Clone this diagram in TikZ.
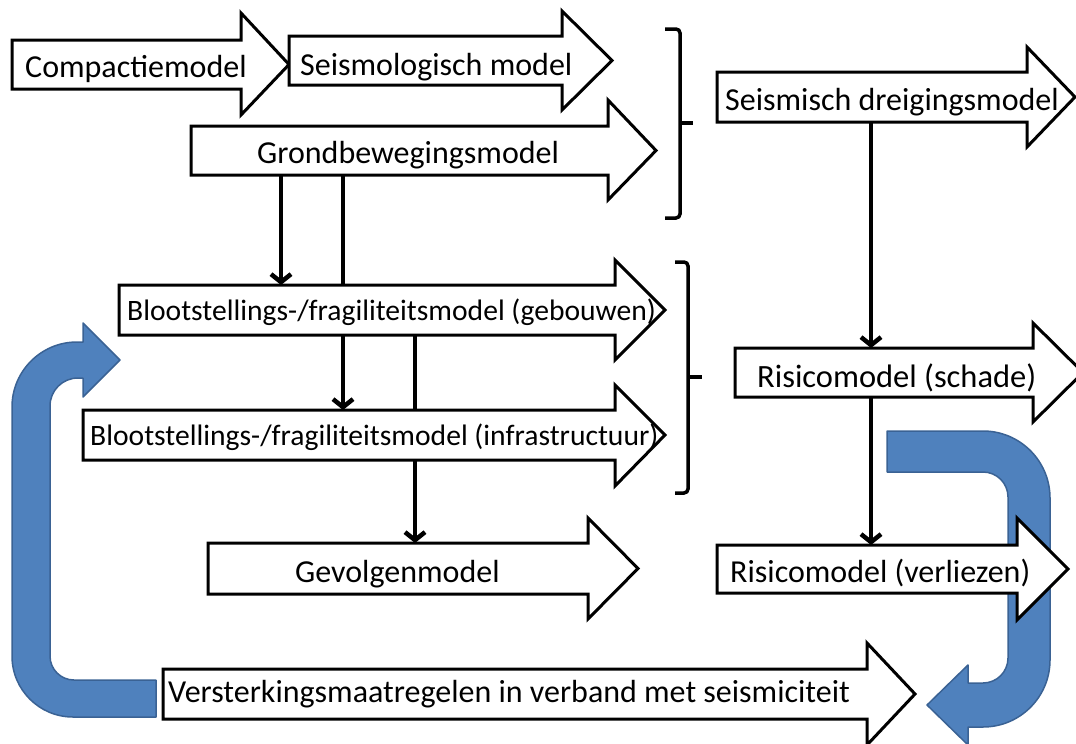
\documentclass[tikz,border=0pt]{standalone}
\usepackage{fontspec}
\setmainfont{Carlito}
\usetikzlibrary{arrows.meta}

\definecolor{officeblue}{HTML}{4F81BD}
\definecolor{officeblueline}{HTML}{3A6294}

\tikzset{
  blockline/.style={draw=black, fill=white, line width=3pt, line join=miter},
  bodybox/.style={draw=none, inner sep=0pt, outer sep=0pt},
  labeltext/.style={inner sep=0pt, anchor=base west, font=\fontsize{32}{36}\selectfont},
  smalllabel/.style={labeltext, font=\fontsize{29.6}{34}\selectfont},
  conn/.style={line width=4.5pt, -{Straight Barb[length=8pt, width=20pt]}},
  bracketline/.style={line width=3.5pt, rounded corners=4pt},
  loopband/.style={fill=officeblue, draw=officeblueline, line width=1.5pt, line join=round}
}

% shaft of a block arrow as a named node: name, left, top, bottom, head start
\newcommand{\shaftnode}[5]{%
  \pgfmathsetmacro{\arrbw}{#5-#2}%
  \pgfmathsetmacro{\arrbh}{#4-#3}%
  \node[bodybox, minimum width=\arrbw pt, minimum height=\arrbh pt] (#1)
    at ({(#2+#5)/2},{(#3+#4)/2}) {};
}
% outline of a block arrow: left, top, bottom, head start, head top, head bottom, tip x
\newcommand{\blockarrow}[7]{%
  \draw[blockline] (#1,#2) -- (#4,#2) -- (#4,#5) -- (#7,{(#2+#3)/2}) -- (#4,#6)
    -- (#4,#3) -- (#1,#3) -- cycle;
}

\begin{document}
\begin{tikzpicture}[x=1pt, y=-1pt]
\useasboundingbox (0,0) rectangle (1076,744);

% columns of the vertical connectors
\coordinate (cA) at (281,0);
\coordinate (cB) at (343,0);
\coordinate (cC) at (415,0);
\coordinate (cD) at (871,0);

% named shafts
\shaftnode{comp}{12}{40}{89}{241}
\shaftnode{seis}{289}{36}{85}{562}
\shaftnode{grond}{191}{126}{175}{608}
\shaftnode{dreig}{717}{72}{122}{1027}
\shaftnode{geb}{119}{285}{335}{615}
\shaftnode{infra}{83}{410}{460}{615}
\shaftnode{schade}{735}{348}{397}{1033}
\shaftnode{gevolg}{208}{543}{594}{588}
\shaftnode{verlies}{717}{545}{593}{1017}
\shaftnode{verst}{163}{669}{719}{867}

% connectors (drawn beneath the block arrows)
\draw[conn] (grond.south -| cA) -- (geb.north -| cA);
\draw[conn] (grond.south -| cB) -- (infra.north -| cB);
\draw[conn] (geb.south -| cC) -- (gevolg.north -| cC);
\draw[conn] (dreig.south -| cD) -- (schade.north -| cD);
\draw[conn] (schade.south -| cD) -- (verlies.north -| cD);

% feedback loop on the left
\draw[loopband] (156,680) -- (74,680)
  .. controls (60.7,680) and (50,669.3) .. (50,656)
  -- (50,406)
  .. controls (50,390.5) and (62.5,378) .. (78,378)
  -- (83,378) -- (83,397) -- (120,360) -- (83,323) -- (83,342) -- (77,342)
  .. controls (41.1,342) and (12,371.1) .. (12,407)
  -- (12,656)
  .. controls (12,689.7) and (39.3,717) .. (73,717)
  -- (156,717) -- cycle;

% feedback hook on the right
\draw[loopband] (887,431) -- (983,431)
  .. controls (1020,431) and (1050,461) .. (1050,498)
  -- (1050,660)
  .. controls (1050,697) and (1020,727) .. (983,727)
  -- (968,727) -- (968,745) -- (927,705) -- (968,665) -- (968,683) -- (983,683)
  .. controls (996.8,683) and (1008,671.8) .. (1008,658)
  -- (1008,497)
  .. controls (1008,483.2) and (996.8,472) .. (983,472)
  -- (887,472) -- cycle;

% block arrow outlines
\blockarrow{12}{40}{89}{241}{13}{115}{289}
\blockarrow{289}{36}{85}{562}{11}{110}{612}
\blockarrow{191}{126}{175}{608}{100}{200}{656}
\blockarrow{717}{72}{122}{1027}{47}{147}{1075}
\blockarrow{119}{285}{335}{615}{260}{360}{665}
\blockarrow{83}{410}{460}{615}{385}{486}{665}
\blockarrow{735}{348}{397}{1033}{323}{422}{1083}
\blockarrow{208}{543}{594}{588}{518}{619}{638}
\blockarrow{717}{545}{593}{1017}{518}{620}{1068}
\blockarrow{163}{669}{719}{867}{643}{745}{915}

% labels
\node[labeltext] (tcomp) at (25,77) {Compactiemodel};
\node[labeltext] (tseis) at (300,75) {Seismologisch model};
\node[labeltext] (tgrond) at (257,163) {Grondbewegingsmodel};
\node[labeltext] (tdreig) at (725,110) {Seismisch dreigingsmodel};
\node[smalllabel] (tgeb) at (127,320) {Blootstellings-/fragiliteitsmodel (gebouwen)};
\node[smalllabel] (tinfra) at (90,445) {Blootstellings-/fragiliteitsmodel (infrastructuur)};
\node[labeltext, font=\fontsize{32.5}{37}\selectfont] (tschade) at (757,387) {Risicomodel (schade)};
\node[labeltext] (tgevolg) at (295,582) {Gevolgenmodel};
\node[labeltext] (tverlies) at (730,582) {Risicomodel (verliezen)};
\node[labeltext] (tverst) at (168,702) {Versterkingsmaatregelen in verband met seismiciteit};

% grouping brackets
\draw[bracketline] (665,29) -- (680,29) -- (680,218) -- (665,218);
\draw[bracketline] (680,123) -- (693,123);
\draw[bracketline] (675,262) -- (688,262) -- (688,493) -- (675,493);
\draw[bracketline] (688,377) -- (702,377);
\end{tikzpicture}
\end{document}
